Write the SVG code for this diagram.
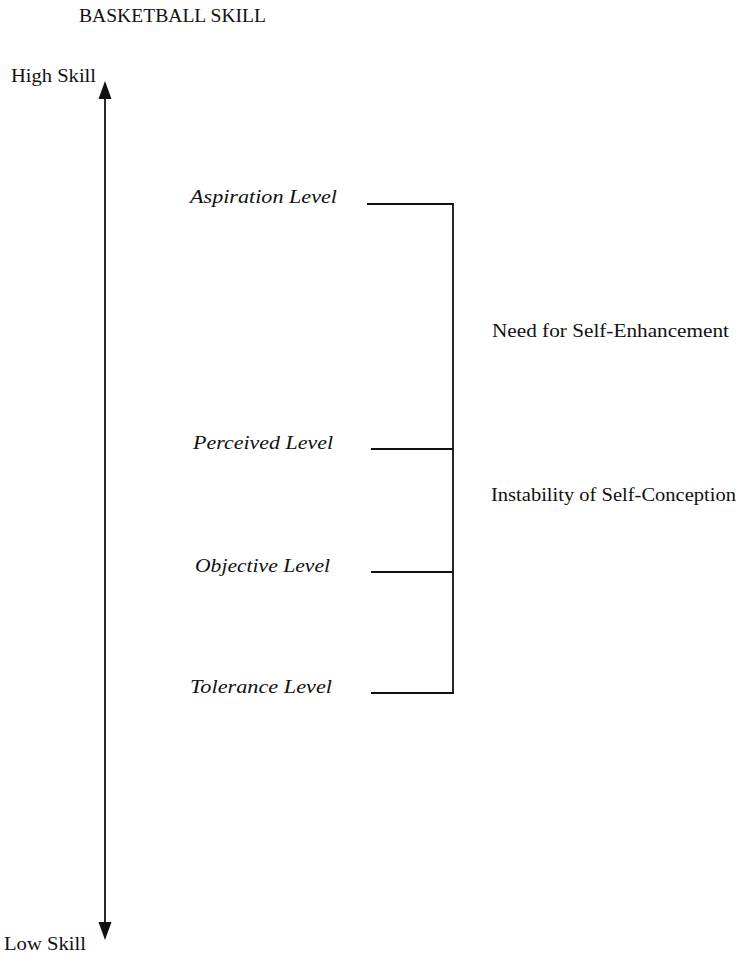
<svg xmlns="http://www.w3.org/2000/svg" width="740" height="955" viewBox="0 0 740 955">
<style>
text{font-family:"Liberation Serif","Times New Roman",serif;fill:#111;font-size:19px}
.it{font-style:italic}
.ln{stroke:#111;stroke-width:1.8;fill:none}
.ah{fill:#111}
</style>
<rect width="740" height="955" fill="#fff"/>
<g id="title"><text x="79" y="22" textLength="187" lengthAdjust="spacingAndGlyphs">BASKETBALL SKILL</text></g>
<g id="high"><text x="11" y="82" textLength="85" lengthAdjust="spacingAndGlyphs">High Skill</text></g>
<g id="low"><text x="4" y="950" textLength="82" lengthAdjust="spacingAndGlyphs">Low Skill</text></g>
<g id="aspiration"><text class="it" x="190" y="203" textLength="147" lengthAdjust="spacingAndGlyphs">Aspiration Level</text></g>
<g id="perceived"><text class="it" x="193" y="449" textLength="140" lengthAdjust="spacingAndGlyphs">Perceived Level</text></g>
<g id="objective"><text class="it" x="195" y="572" textLength="135" lengthAdjust="spacingAndGlyphs">Objective Level</text></g>
<g id="tolerance"><text class="it" x="190" y="693" textLength="142" lengthAdjust="spacingAndGlyphs">Tolerance Level</text></g>
<g id="need"><text x="492" y="337" textLength="237" lengthAdjust="spacingAndGlyphs">Need for Self-Enhancement</text></g>
<g id="instability"><text x="491" y="501" textLength="245" lengthAdjust="spacingAndGlyphs">Instability of Self-Conception</text></g>
<g id="connectors">
<line class="ln" x1="105" y1="96" x2="105" y2="925"/>
<polygon class="ah" points="105,81 98.5,99 111.5,99"/>
<polygon class="ah" points="105,940 98.5,922 111.5,922"/>
<polyline class="ln" points="367,204 453,204 453,693 371,693"/>
<line class="ln" x1="371" y1="449" x2="453" y2="449"/>
<line class="ln" x1="371" y1="572" x2="453" y2="572"/>
</g>
</svg>
